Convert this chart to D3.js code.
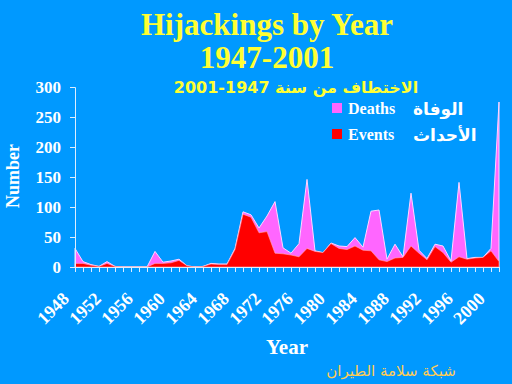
<!DOCTYPE html>
<html>
<head>
<meta charset="utf-8">
<script src="https://cdn.jsdelivr.net/npm/d3@7"></script>
<style>
  body { margin: 0; background: #0099ff; }
  svg { display: block; }
  .serif { font-family: "Liberation Serif", "Times New Roman", serif; font-weight: bold; }
  .arab { font-family: "DejaVu Sans", Arial, sans-serif; font-weight: bold; }
  .arabn { font-family: "DejaVu Sans", Arial, sans-serif; font-weight: normal; }
</style>
</head>
<body>
<svg id="chart" width="512" height="384"></svg>
<script>
var years = d3.range(1948, 2002);
var deaths = [31, 9, 4, 1, 9, 1, 0, 0, 0, 0,
	26, 8, 10, 13, 2, 0, 1, 6, 5, 5,
	31, 92, 87, 65, 85, 109, 32, 23, 39, 146,
	27, 24, 40, 35, 34, 49, 33, 93, 95, 13,
	38, 17, 123, 28, 14, 38, 35, 10, 141, 14,
	16, 16, 31, 275];
var events = [6, 6, 3, 1, 6, 1, 0, 0, 0, 0,
	6, 6, 7, 11, 2, 0, 1, 5, 4, 4,
	29, 88, 83, 57, 59, 23, 22, 20, 17, 31,
	26, 24, 39, 31, 29, 35, 28, 27, 12, 9,
	15, 16, 35, 23, 12, 34, 24, 8, 17, 13,
	15, 16, 27, 9];
var yTicks = [0, 50, 100, 150, 200, 250, 300];
var yearLabels = [1948, 1952, 1956, 1960, 1964, 1968, 1972, 1976, 1980, 1984, 1988, 1992, 1996, 2000];

var svg = d3.select("#chart");
svg.append("rect").attr("width", 512).attr("height", 384).attr("fill", "#0099ff");

var x = d3.scaleLinear().domain([1948, 2001]).range([75, 499]);
var y = d3.scaleLinear().domain([0, 300]).range([267, 87]);

var rows = years.map(function(yr, i) {
	return {year: yr, deaths: deaths[i], events: events[i]};
});

// titles
svg.append("text").attr("class", "serif").attr("x", 267).attr("y", 35)
	.attr("text-anchor", "middle").attr("font-size", 31).attr("fill", "#ffff33")
	.text("Hijackings by Year");
svg.append("text").attr("class", "serif").attr("x", 267).attr("y", 68)
	.attr("text-anchor", "middle").attr("font-size", 31).attr("fill", "#ffff33")
	.text("1947-2001");
svg.append("text").attr("class", "arab").attr("x", 296).attr("y", 93)
	.attr("text-anchor", "middle").attr("font-size", 16).attr("fill", "#ffff33")
	.attr("direction", "rtl")
	.text("الاختطاف من سنة 1947-2001");

// areas
var areaDeaths = d3.area()
	.x(function(d) { return x(d.year); })
	.y0(y(0))
	.y1(function(d) { return y(d.deaths); });
var areaEvents = d3.area()
	.x(function(d) { return x(d.year); })
	.y0(y(0))
	.y1(function(d) { return y(d.events); });

svg.append("path").datum(rows).attr("d", areaDeaths)
	.attr("fill", "#ff66ff").attr("stroke", "#ffd6ff").attr("stroke-width", 1);
svg.append("path").datum(rows).attr("d", areaEvents)
	.attr("fill", "#ff0000").attr("stroke", "#ffb0b0").attr("stroke-width", 0.6);

// axes
var yAxis = svg.append("g").attr("transform", "translate(75,0)")
	.call(d3.axisLeft(y).tickValues(yTicks).tickSize(5).tickFormat(""));
yAxis.select(".domain").attr("stroke", "#ddeeff");
yAxis.selectAll(".tick line").attr("stroke", "#ddeeff");

var xAxis = svg.append("g").attr("transform", "translate(0,267)")
	.call(d3.axisBottom(x).tickValues(years).tickSize(5).tickFormat(""));
xAxis.select(".domain").attr("stroke", "#ddeeff");
xAxis.selectAll(".tick line").attr("stroke", "#ddeeff");

svg.selectAll("text.ylab").data(yTicks).enter().append("text")
	.attr("class", "serif ylab")
	.attr("x", 61).attr("y", function(d) { return y(d) + 6; })
	.attr("text-anchor", "end").attr("font-size", 17).attr("fill", "white")
	.text(function(d) { return d; });

svg.selectAll("text.xlab").data(yearLabels).enter().append("text")
	.attr("class", "serif xlab")
	.attr("transform", function(d) { return "translate(" + (x(d) - 5) + ",300) rotate(-45)"; })
	.attr("text-anchor", "end").attr("font-size", 18).attr("fill", "white")
	.text(function(d) { return d; });

svg.append("text").attr("class", "serif")
	.attr("transform", "translate(19,176) rotate(-90)")
	.attr("text-anchor", "middle").attr("font-size", 18).attr("fill", "white")
	.text("Number");
svg.append("text").attr("class", "serif").attr("x", 287).attr("y", 354)
	.attr("text-anchor", "middle").attr("font-size", 21).attr("fill", "white")
	.text("Year");

// legend
var legend = [
	{name: "Deaths", ar: "الوفاة", color: "#ff66ff", y: 103},
	{name: "Events", ar: "الأحداث", color: "#ff0000", y: 129}
];
var lg = svg.selectAll("g.leg").data(legend).enter().append("g").attr("class", "leg");
lg.append("rect").attr("x", 332).attr("y", function(d) { return d.y; })
	.attr("width", 10).attr("height", 10).attr("fill", function(d) { return d.color; });
lg.append("text").attr("class", "serif").attr("x", 348).attr("y", function(d) { return d.y + 11; })
	.attr("font-size", 16).attr("fill", "white").text(function(d) { return d.name; });
lg.append("text").attr("class", "arab").attr("x", 413).attr("y", function(d) { return d.y + 12; })
	.attr("text-anchor", "start")
	.attr("font-size", 17).attr("fill", "white").text(function(d) { return d.ar; });

svg.append("text").attr("class", "arabn").attr("x", 391).attr("y", 376)
	.attr("text-anchor", "middle")
	.attr("font-size", 15).attr("fill", "#ffcc55")
	.text("شبكة سلامة الطيران");
</script>
</body>
</html>
